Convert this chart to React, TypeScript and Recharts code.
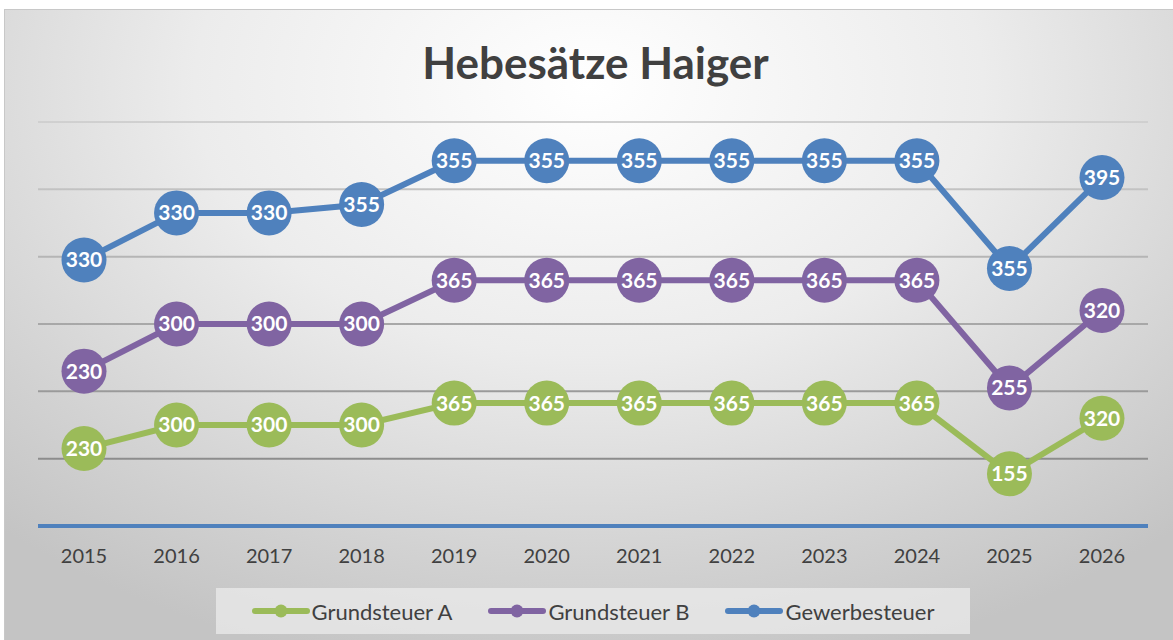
import React from 'react';
import { ComposedChart, Area, XAxis, YAxis, CartesianGrid, Legend, LabelList } from 'recharts';

const years = ['2015', '2016', '2017', '2018', '2019', '2020', '2021', '2022', '2023', '2024', '2025', '2026'];
const grundsteuerA = [230, 300, 300, 300, 365, 365, 365, 365, 365, 365, 155, 320];
const grundsteuerB = [230, 300, 300, 300, 365, 365, 365, 365, 365, 365, 255, 320];
const gewerbesteuer = [330, 330, 330, 355, 355, 355, 355, 355, 355, 355, 355, 395];
const yTicks = [0, 200, 400, 600, 800, 1000, 1200];

const series = [
  { key: 'a', name: 'Grundsteuer A', color: '#9BBB59', values: grundsteuerA },
  { key: 'b', name: 'Grundsteuer B', color: '#8064A2', values: grundsteuerB },
  { key: 'g', name: 'Gewerbesteuer', color: '#4F81BD', values: gewerbesteuer },
];

const data = years.map((year, i) => ({
  year,
  a: grundsteuerA[i],
  b: grundsteuerB[i],
  g: gewerbesteuer[i],
}));

const FONT = 'Lato, "Open Sans", sans-serif';

const LegendContent = () => (
  <div
    style={{
      width: 754,
      height: 46,
      margin: '0 auto',
      background: 'rgba(235,235,235,0.75)',
      display: 'flex',
      alignItems: 'center',
      justifyContent: 'center',
      gap: 36,
      fontFamily: FONT,
      fontSize: 22,
      color: '#404040',
    }}
  >
    {series.map((s) => (
      <div key={s.key} style={{ display: 'flex', alignItems: 'center' }}>
        <svg width={58} height={16} style={{ marginRight: 2 }}>
          <line x1={3} y1={8} x2={55} y2={8} stroke={s.color} strokeWidth={6} strokeLinecap="round" />
          <circle cx={29} cy={8} r={6.5} fill={s.color} />
        </svg>
        <span>{s.name}</span>
      </div>
    ))}
  </div>
);

const makeDot = (color: string) => (p: any) => (
  <circle key={`d-${p.index}`} cx={p.cx} cy={p.cy} r={22.5} fill={color} stroke="none" />
);

export default function App() {
  return (
    <div
      style={{
        position: 'absolute',
        left: 4,
        top: 9,
        width: 1169,
        height: 631,
        background:
          'radial-gradient(ellipse 75% 95% at 50% 12%, #ffffff 0%, #ececec 45%, #d2d2d2 80%, #c4c4c4 100%)',
        borderTop: '1px solid #c8c8c8',
        borderLeft: '1px solid #c8c8c8',
        boxSizing: 'border-box',
      }}
    >
      <div
        style={{
          position: 'absolute',
          left: 6,
          width: 1169,
          top: 24,
          textAlign: 'center',
          fontFamily: FONT,
          fontWeight: 700,
          fontSize: 44,
          color: '#404040',
          lineHeight: '56px',
        }}
      >
        Hebesätze Haiger
      </div>
      <ComposedChart
        width={1169}
        height={631}
        data={data}
        margin={{ top: 113, right: 25, left: 34, bottom: 6 }}
        style={{ position: 'absolute', left: -1, top: -1 }}
      >
        <defs>
          <linearGradient id="gridGrad" gradientUnits="userSpaceOnUse" x1="0" y1="112" x2="0" y2="518">
            <stop offset="0%" stopColor="#d0d0d0" />
            <stop offset="100%" stopColor="#7f7f7f" />
          </linearGradient>
        </defs>
        <CartesianGrid vertical={false} stroke="url(#gridGrad)" strokeWidth={2} />
        <XAxis
          dataKey="year"
          height={62}
          padding={{ left: 46, right: 46 }}
          tickLine={false}
          tickSize={6}
          tickMargin={17}
          axisLine={{ stroke: '#4F81BD', strokeWidth: 4 }}
          tick={{ fill: '#404040', fontSize: 20, fontFamily: FONT }}
        />
        <YAxis hide domain={[0, 1200]} ticks={yTicks} />
        {series.map((s) => (
          <Area
            key={s.key}
            type="linear"
            dataKey={s.key}
            name={s.name}
            stackId="1"
            stroke={s.color}
            strokeWidth={6}
            fill="none"
            fillOpacity={0}
            dot={makeDot(s.color)}
            activeDot={false}
            isAnimationActive={false}
          >
            <LabelList
              dataKey={s.key}
              position="center"
              fill="#ffffff"
              fontSize={21}
              fontWeight={700}
              fontFamily={FONT}
            />
          </Area>
        ))}
        <Legend verticalAlign="bottom" height={46} content={<LegendContent />} />
      </ComposedChart>
    </div>
  );
}
